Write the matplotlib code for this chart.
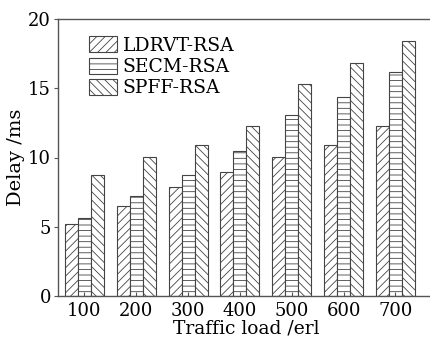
import matplotlib
matplotlib.use("Agg")
import matplotlib.pyplot as plt
import numpy as np

plt.rcParams['font.family'] = ['DejaVu Serif']
plt.rcParams['hatch.linewidth'] = 0.6

loads = ["100", "200", "300", "400", "500", "600", "700"]
ldrvt = [5.2, 6.5, 7.85, 8.95, 10.05, 10.9, 12.25]
secm = [5.6, 7.2, 8.75, 10.5, 13.1, 14.4, 16.2]
spff = [8.75, 10.05, 10.9, 12.25, 15.3, 16.85, 18.4]

series = [("LDRVT-RSA", ldrvt, '////'), ("SECM-RSA", secm, '---'), ("SPFF-RSA", spff, '\\\\\\\\')]

fig = plt.figure(figsize=(4.31, 3.40), dpi=100)
ax = fig.add_axes([58/431, 44/340, 1 - 58/431 + 0.01, (296-19)/340])

x = np.arange(1, len(loads) + 1)
w = 0.25
for i, (name, vals, h) in enumerate(series):
    ax.bar(x + (i - 1) * w, vals, w, facecolor='white', edgecolor='#444444',
           hatch=h, linewidth=0.8, label=name)

ax.set_xlim(0.49, 7.63 + 0.14)
ax.set_ylim(0, 20)
ax.set_yticks([0, 5, 10, 15, 20])
ax.set_xticks(x)
ax.set_xticklabels(loads)
ax.tick_params(axis='y', direction='out', length=3, labelsize=13, color='#555555', pad=2)
ax.tick_params(axis='x', direction='in', length=3, labelsize=13, color='#555555', pad=4)
for s in ['left', 'bottom', 'top']:
    ax.spines[s].set_color('#555555')
    ax.spines[s].set_linewidth(1.0)
ax.spines['right'].set_visible(False)
ax.set_xlabel("Traffic load /erl", fontsize=13.5, labelpad=0)
ax.set_ylabel("Delay /ms", fontsize=14, labelpad=2)

leg = ax.legend(loc='upper left', bbox_to_anchor=(0.062, 0.965), frameon=False,
                fontsize=13.5, handlelength=1.5, handleheight=0.95,
                handletextpad=0.3, labelspacing=0.15, borderaxespad=0)

fig.savefig("out.png", dpi=100)
